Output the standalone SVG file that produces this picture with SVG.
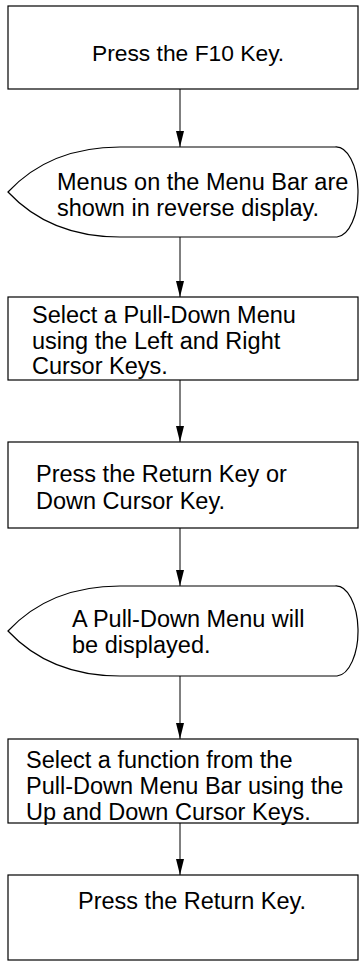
<svg xmlns="http://www.w3.org/2000/svg" width="359" height="962" viewBox="0 0 359 962">
<style>
.shape{fill:#fff;stroke:#000;stroke-width:1.2}
.t{font-family:"Liberation Sans",Arial,sans-serif;font-size:23.5px;fill:#000}
.c{stroke:#000;stroke-width:1;fill:none}
</style>
<defs>
<marker id="ah" markerUnits="userSpaceOnUse" markerWidth="16" markerHeight="8" viewBox="0 0 16 8" refX="16" refY="4" orient="auto">
<path d="M0,0 L16,4 L0,8 z" fill="#000"/>
</marker>
</defs>
<rect width="359" height="962" fill="#fff"/>
<g id="connectors">
<line class="c" x1="180" y1="89" x2="180" y2="147" marker-end="url(#ah)"/>
<line class="c" x1="180" y1="237" x2="180" y2="297" marker-end="url(#ah)"/>
<line class="c" x1="180" y1="380" x2="180" y2="442" marker-end="url(#ah)"/>
<line class="c" x1="180" y1="528" x2="180" y2="586" marker-end="url(#ah)"/>
<line class="c" x1="180" y1="676" x2="180" y2="739" marker-end="url(#ah)"/>
<line class="c" x1="180" y1="823" x2="180" y2="875" marker-end="url(#ah)"/>
</g>
<g id="n1">
<rect class="shape" x="8" y="6" width="350" height="83"/>
<text class="t" x="92" y="61" style="font-size:22.8px">Press the F10 Key.</text>
</g>
<g id="n2">
<path class="shape" d="M120,147 L335,147 A22 45 0 0 1 337,237 L120,237 Q50,237 8,192 Q50,147 120,147 Z"/>
<text class="t" x="57"><tspan x="57" y="190">Menus on the Menu Bar are</tspan><tspan x="57" y="216">shown in reverse display.</tspan></text>
</g>
<g id="n3">
<rect class="shape" x="8" y="297" width="350" height="83"/>
<text class="t"><tspan x="32" y="323">Select a Pull-Down Menu</tspan><tspan x="32" y="348.5">using the Left and Right</tspan><tspan x="32" y="374">Cursor Keys.</tspan></text>
</g>
<g id="n4">
<rect class="shape" x="8" y="442" width="350" height="86"/>
<text class="t"><tspan x="36" y="481.5">Press the Return Key or</tspan><tspan x="36" y="509">Down Cursor Key.</tspan></text>
</g>
<g id="n5">
<path class="shape" d="M120,586 L335,586 A22 45 0 0 1 337,676 L120,676 Q50,676 8,631 Q50,586 120,586 Z"/>
<text class="t"><tspan x="72" y="627">A Pull-Down Menu will</tspan><tspan x="72" y="653">be displayed.</tspan></text>
</g>
<g id="n6">
<rect class="shape" x="8" y="739" width="350" height="84"/>
<text class="t"><tspan x="26" y="768">Select a function from the</tspan><tspan x="26" y="794">Pull-Down Menu Bar using the</tspan><tspan x="26" y="820">Up and Down Cursor Keys.</tspan></text>
</g>
<g id="n7">
<rect class="shape" x="8" y="875" width="350" height="85"/>
<text class="t" x="78" y="909">Press the Return Key.</text>
</g>
</svg>
